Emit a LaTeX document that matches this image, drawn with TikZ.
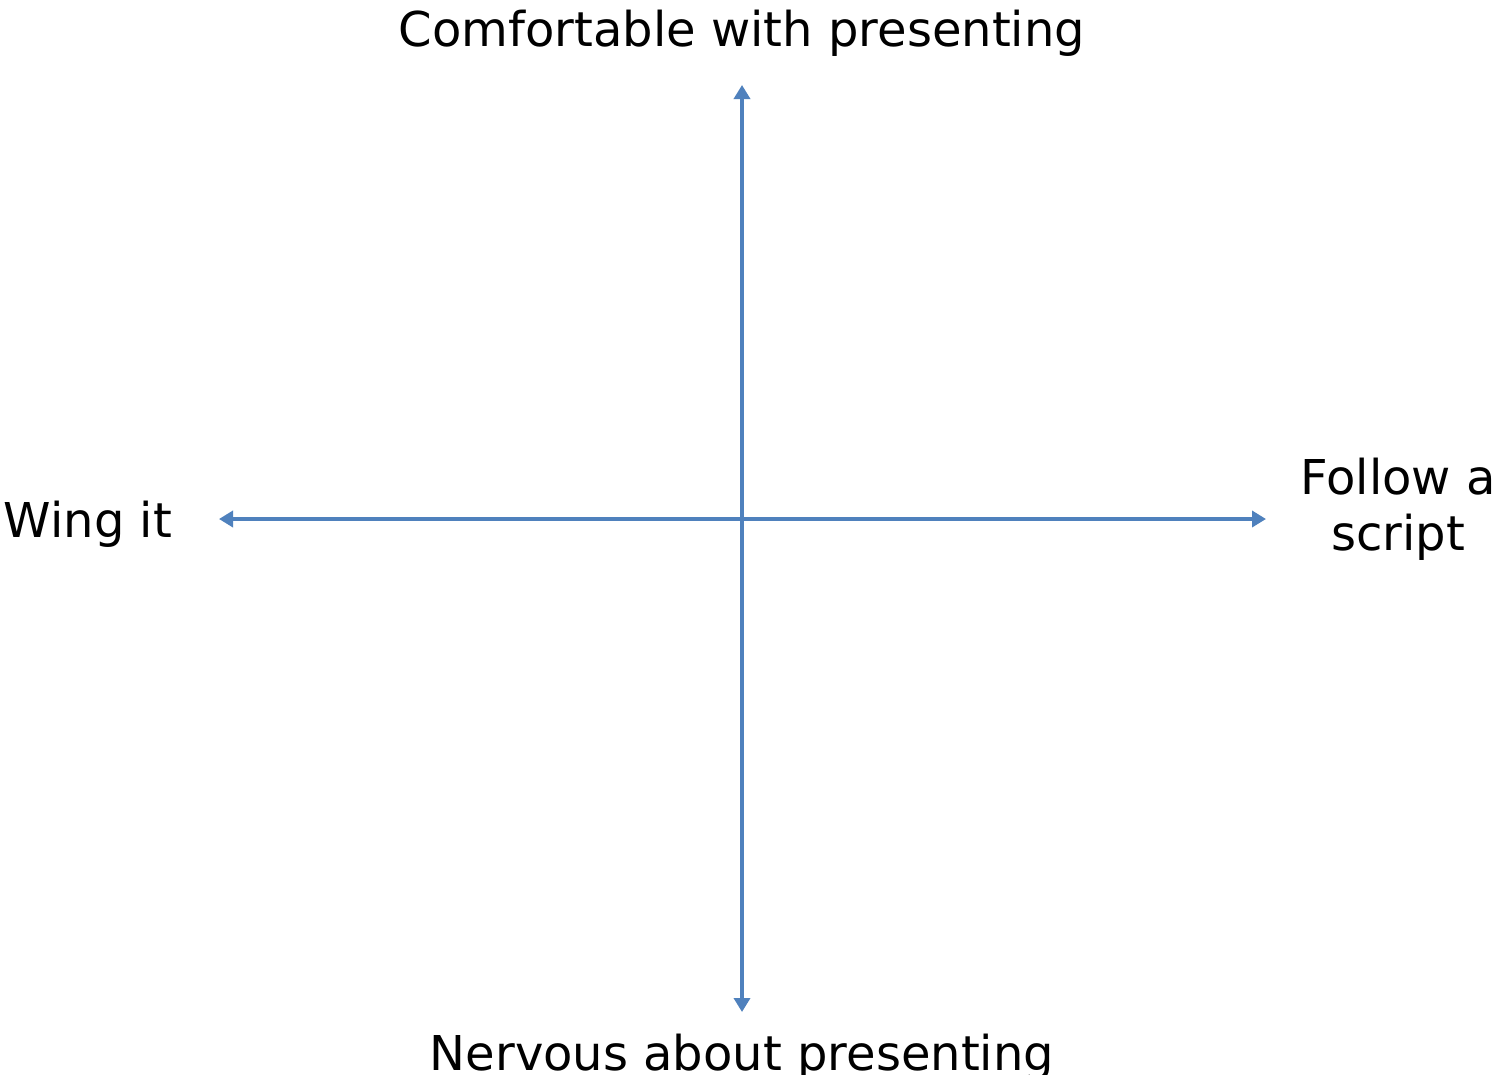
\documentclass[tikz,border=0pt]{standalone}
\usepackage{fontspec}
\setmainfont{DejaVu Sans}
\usetikzlibrary{arrows.meta}
\definecolor{axisblue}{HTML}{4F81BD}
\begin{document}
\begin{tikzpicture}[x=1pt,y=-1pt,
  axis/.style={draw=axisblue,line width=4pt,{Triangle[width=16pt,length=14pt]}-{Triangle[width=16pt,length=14pt]}},
  lbl/.style={font=\fontsize{48}{56}\selectfont,inner sep=0pt,anchor=base,text=black}]
\useasboundingbox (0,0) rectangle (1498,1074);
\fill[white] (0,0) rectangle (1498,1074);
\coordinate (top) at (742,85);
\coordinate (bot) at (742,1012);
\coordinate (left) at (219,519);
\coordinate (right) at (1266,519);
\draw[axis] (bot) -- (top);
\draw[axis] (left) -- (right);
\node[lbl] (ttop) at (742,46) {Comfortable with presenting};
\node[lbl] (tbot) at (742,1070) {Nervous about presenting};
\node[lbl] (tleft) at (88,537) {Wing it};
\node[lbl,align=center] (tright) at (1398,550) {Follow a\\script};
\end{tikzpicture}
\end{document}
